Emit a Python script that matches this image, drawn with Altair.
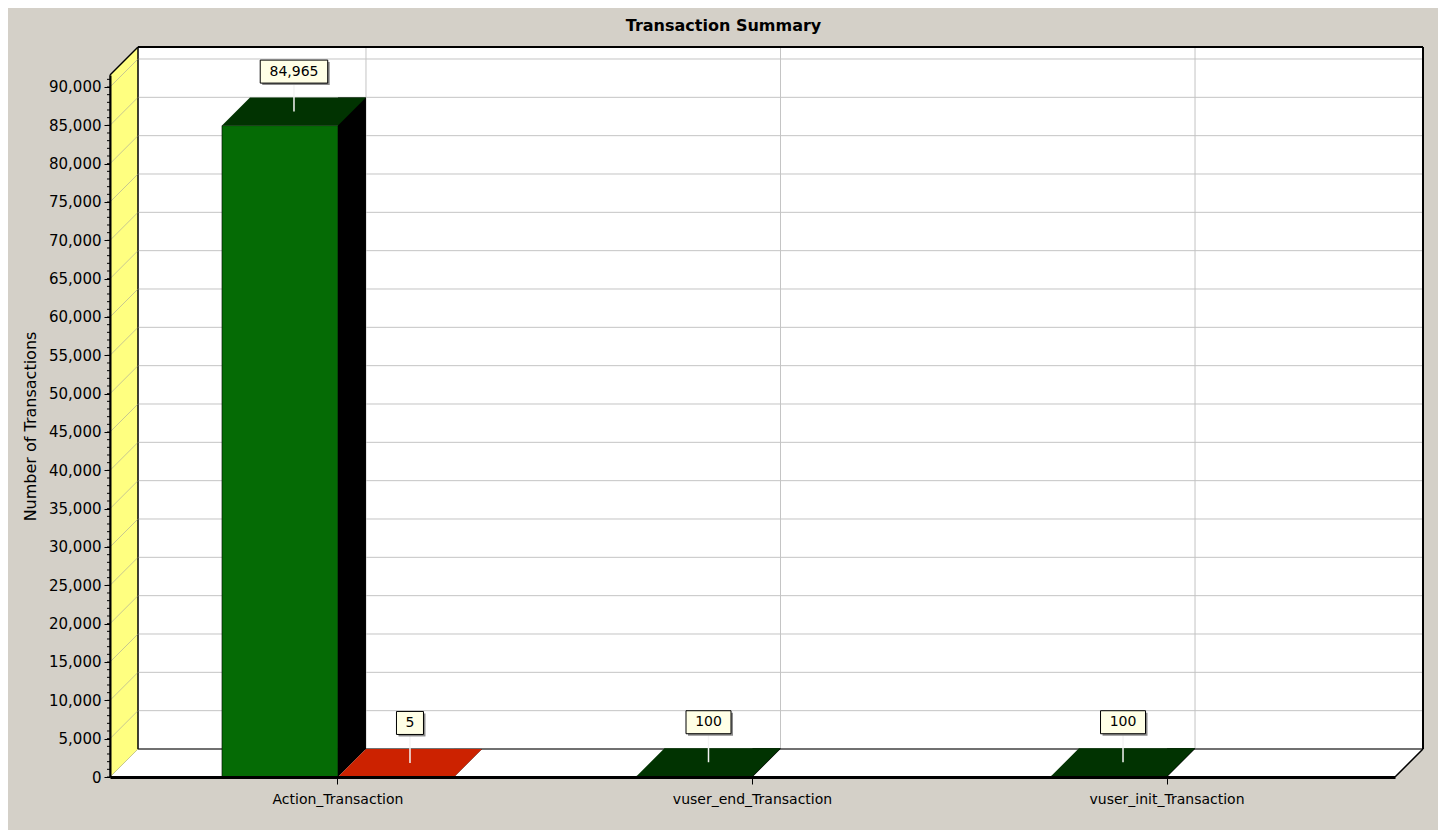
import altair as alt
import pandas as pd

# ---------------- data ----------------
CATEGORIES = ["Action_Transaction", "vuser_end_Transaction", "vuser_init_Transaction"]
SERIES = ["Pass", "Fail"]
PASS_VALUES = [84965, 100, 100]
FAIL_VALUES = [5, 0, 0]
Y_TICKS = [0, 5000, 10000, 15000, 20000, 25000, 30000, 35000, 40000, 45000,
           50000, 55000, 60000, 65000, 70000, 75000, 80000, 85000, 90000]
TITLE = "Transaction Summary"
Y_TITLE = "Number of Transactions"

# ---------------- layout / style ----------------
W, H, D = 1285, 702, 28          # front plane size, 3-D depth (px)
BAR_W = 116
Y_MAX = 91565                    # value at top of the front plane
FONT = "DejaVu Sans"
BG = "#D4D0C8"
FRONT = {"Pass": "#056B05", "Fail": "#C92A02"}
TOP = {"Pass": "#013301", "Fail": "#CC2200"}
SIDE = "#000000"
WALL = "#FFFF80"
GRID = "#C4C4C4"
SHIFT = {"Pass": -BAR_W / 2, "Fail": BAR_W / 2}

rows = []
for c, p, f in zip(CATEGORIES, PASS_VALUES, FAIL_VALUES):
    rows.append({"category": c, "series": "Pass", "value": p})
    rows.append({"category": c, "series": "Fail", "value": f})
df = pd.DataFrame(rows)
ticks_df = pd.DataFrame({"v": Y_TICKS})
minor_df = pd.DataFrame({"v": list(range(0, 91001, 1000))})
cat_df = pd.DataFrame({"category": CATEGORIES})
one = alt.Data(values=[{"a": 1}])

x_scale = alt.Scale(type="band", domain=CATEGORIES, paddingInner=0.44, paddingOuter=0.27)
y_scale = alt.Scale(domain=[0, Y_MAX], nice=False, zero=True)

Y_AXIS = alt.Axis(values=Y_TICKS, labelExpr="format(datum.value, ',')", title=Y_TITLE,
                  titleFont=FONT, titleFontSize=16,
                  titleFontWeight="normal", titleColor="black", titlePadding=10,
                  labelFont=FONT, labelFontSize=15, labelColor="black", labelPadding=3,
                  tickColor="black", tickSize=6, tickWidth=1, domainColor="black",
                  domainWidth=2, grid=False, zindex=1)
X_AXIS = alt.Axis(title=None, labelAngle=0, labelFont=FONT, labelFontSize=14, labelColor="black",
                  labelPadding=8, tickColor="black", tickSize=7, tickWidth=1,
                  domainColor="black", domainWidth=3, grid=False, zindex=1)


def X():
    return alt.X("category:N", scale=x_scale, axis=X_AXIS, title=None)


def Y(field="value"):
    return alt.Y(f"{field}:Q", scale=y_scale, axis=Y_AXIS, title=Y_TITLE)


def poly(points, half):
    return "M" + " L".join(f"{px / half:.5f},{py / half:.5f}" for px, py in points) + " Z"


def edge(x, x2, y, y2, width, color="black"):
    return alt.Chart(one).mark_rule(color=color, strokeWidth=width).encode(
        x=alt.value(x), x2=alt.value(x2), y=alt.value(y), y2=alt.value(y2))


layers = []

# back wall
layers.append(alt.Chart(one).mark_rect(fill="white").encode(
    x=alt.value(D), x2=alt.value(W + D), y=alt.value(-D), y2=alt.value(H - D)))

# floor (parallelogram symbol)
fh = (W + D) / 2
floor_path = poly([(-fh, D / 2), (fh - D, D / 2), (fh, -D / 2), (-fh + D, -D / 2)], fh)
layers.append(alt.Chart(one).mark_point(shape=floor_path, size=(W + D) ** 2, filled=True,
                                        fill="white", opacity=1, strokeWidth=0).encode(
    x=alt.value(fh), y=alt.value(H - D / 2)))

# left wall (parallelogram symbol)
lh = (H + D) / 2
cy = (H - D) / 2
wall_path = poly([(-D / 2, -cy), (D / 2, -lh), (D / 2, cy), (-D / 2, lh)], lh)
layers.append(alt.Chart(one).mark_point(shape=wall_path, size=(H + D) ** 2, filled=True,
                                        fill=WALL, opacity=1, stroke="black",
                                        strokeWidth=1).encode(
    x=alt.value(D / 2), y=alt.value(cy)))

# gridlines on back wall
layers.append(alt.Chart(ticks_df).mark_rule(color=GRID, strokeWidth=1, yOffset=-D).encode(
    x=alt.value(D), x2=alt.value(W + D), y=Y("v")))
# gridlines on left wall
layers.append(alt.Chart(ticks_df).mark_rule(color="#C8C890", strokeWidth=1, y2Offset=-D).encode(
    x=alt.value(0), x2=alt.value(D), y=Y("v"), y2=alt.Y2("v")))
# vertical gridlines on back wall
layers.append(alt.Chart(cat_df).mark_rule(color=GRID, strokeWidth=1, xOffset=D).encode(
    x=X(), y=alt.value(-D), y2=alt.value(H - D)))

# frame edges
layers.append(edge(D, W + D, -D, -D, 2))
layers.append(edge(W + D, W + D, -D, H - D, 2))
layers.append(edge(0, D, 0, -D, 1.5))
layers.append(edge(W, W + D, H, H - D, 1.5))
layers.append(edge(D, W + D, H - D, H - D, 1.2))
layers.append(edge(D, D, -D, H - D, 1))

# minor ticks on y axis
layers.append(alt.Chart(minor_df).mark_rule(color="black", strokeWidth=1).encode(
    x=alt.value(-3), x2=alt.value(0), y=Y("v")))

# ---------------- bars ----------------
base = alt.Chart(df).transform_filter("datum.value > 0").transform_calculate(zero="0")
tri_path = "M-1,-1 L1,-1 L-1,1 Z"
th = (BAR_W + D) / 2
top_path = poly([(-th, D / 2), (th - D, D / 2), (th, -D / 2), (-th + D, -D / 2)], th)

for s in SERIES:
    b = base.transform_filter(f"datum.series == '{s}'")
    sc = SHIFT[s]
    side_off = sc + BAR_W / 2 + D / 2
    top_off = sc - BAR_W / 2 + th
    layers.append(b.mark_bar(width=D, xOffset=side_off, yOffset=-D, y2Offset=-D,
                             color=SIDE).encode(x=X(), y=Y(), y2=alt.Y2("zero:Q")))
    layers.append(b.mark_point(shape=tri_path, size=D * D, filled=True, color=SIDE,
                               opacity=1, strokeWidth=0, xOffset=side_off,
                               yOffset=-D / 2).encode(x=X(), y=Y("zero")))
    layers.append(b.mark_bar(width=BAR_W, xOffset=sc, color=FRONT[s], stroke="black",
                             strokeWidth=0.6).encode(x=X(), y=Y(), y2=alt.Y2("zero:Q")))
    layers.append(b.mark_point(shape=top_path, size=(BAR_W + D) ** 2, filled=True,
                               color=TOP[s], opacity=1, strokeWidth=0, xOffset=top_off,
                               yOffset=-D / 2).encode(x=X(), y=Y()))

# ---------------- value labels ----------------
BOX_H = 23
LIFT = 40
labels = [(s, f"{v:,}") for s, vals in (("Pass", PASS_VALUES), ("Fail", FAIL_VALUES))
          for v in vals if v > 0]
lab_base = base.transform_calculate(label="format(datum.value, ',')")
for s in SERIES:
    sc = SHIFT[s]
    top_off = sc - BAR_W / 2 + th
    bs = lab_base.transform_filter(f"datum.series == '{s}'")
    layers.append(bs.mark_rule(color="#F4F4F4", strokeWidth=1.5, xOffset=top_off,
                               yOffset=-D / 2 - LIFT + BOX_H / 2, y2Offset=-D / 2).encode(
        x=X(), y=Y(), y2=alt.Y2("value")))
    for lab in sorted({l for ss, l in labels if ss == s}):
        digits = sum(ch.isdigit() for ch in lab)
        commas = lab.count(",")
        bw = 9 * digits + 4.5 * commas + 18
        hh = BOX_H / 2
        box_path = poly([(-bw / 2, -hh), (bw / 2, -hh), (bw / 2, hh), (-bw / 2, hh)], bw / 2)
        bl = bs.transform_filter(f"datum.label == '{lab}'")
        layers.append(bl.mark_point(shape=box_path, size=bw * bw, filled=True, color="#8C8C8C",
                                    opacity=1, strokeWidth=0, xOffset=top_off + 2,
                                    yOffset=-D / 2 - LIFT + 2).encode(x=X(), y=Y()))
        layers.append(bl.mark_point(shape=box_path, size=bw * bw, filled=True, fill="#FFFFE6",
                                    opacity=1, stroke="black", strokeWidth=1,
                                    xOffset=top_off, yOffset=-D / 2 - LIFT).encode(
            x=X(), y=Y()))
    layers.append(bs.mark_text(font=FONT, fontSize=14, color="black", align="center",
                               baseline="middle", xOffset=top_off,
                               yOffset=-D / 2 - LIFT).encode(x=X(), y=Y(), text="label:N"))

chart = alt.layer(*layers).properties(
    width=W, height=H,
    title=alt.TitleParams(TITLE, font=FONT, fontSize=16, fontWeight="bold", color="black",
                          anchor="middle", frame="group", offset=11, dx=-29),
    background=BG,
    padding={"left": 102, "top": 67, "right": 43, "bottom": 53},
    autosize=alt.AutoSizeParams(type="none"),
).configure_view(strokeWidth=0, fill=None)

chart.save("out.html", embed_options={"renderer": "svg", "actions": False})
